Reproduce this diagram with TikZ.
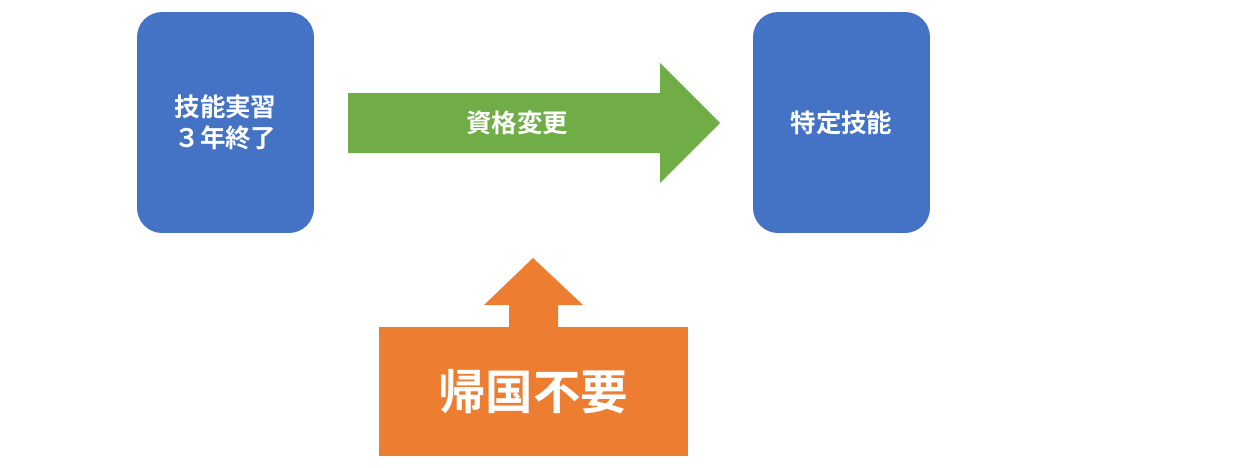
\documentclass[tikz,border=0pt]{standalone}
\usepackage{fontspec}
\newfontfamily\cjk{Noto Sans CJK JP}[BoldFont={Noto Sans CJK JP Bold}]
\usetikzlibrary{shapes.arrows,positioning}
\definecolor{boxblue}{HTML}{4472C4}
\definecolor{arrgreen}{HTML}{70AD47}
\definecolor{arrorange}{HTML}{ED7D31}

\begin{document}
\begin{tikzpicture}[x=0.02cm,y=-0.02cm]
  \tikzstyle{bnode} = [fill=boxblue, rectangle, rounded corners=0.5cm, minimum width=3.54cm, minimum height=4.42cm, text=white, align=center, font=\cjk\bfseries\fontsize{14.5}{18}\selectfont]
  \tikzstyle{lbl} = [text=white, font=\cjk\bfseries\fontsize{14.5}{18}\selectfont]

  \useasboundingbox (0,0) rectangle (1251,467);

  \node[bnode] (b1) at (225.5,122.5) {技能実習\\３年終了};
  \node[bnode] (b2) at (841.5,122.5) {特定技能};

  % change arrow
  \fill[arrgreen] (348,93) -- (660,93) -- (660,63) -- (720,123) -- (660,183) -- (660,153) -- (348,153) -- cycle;
  \node[lbl] (chg) at (517,123) {資格変更};

  % no return
  \fill[arrorange] (379,327) rectangle (688,456);
  \fill[arrorange] (509,328) -- (509,305) -- (484,305) -- (533,258) -- (583,305) -- (558,305) -- (558,328) -- cycle;
  \node[text=white, font=\cjk\bfseries\fontsize{27}{30}\selectfont] (ret) at (533,392) {帰国不要};
\end{tikzpicture}
\end{document}
